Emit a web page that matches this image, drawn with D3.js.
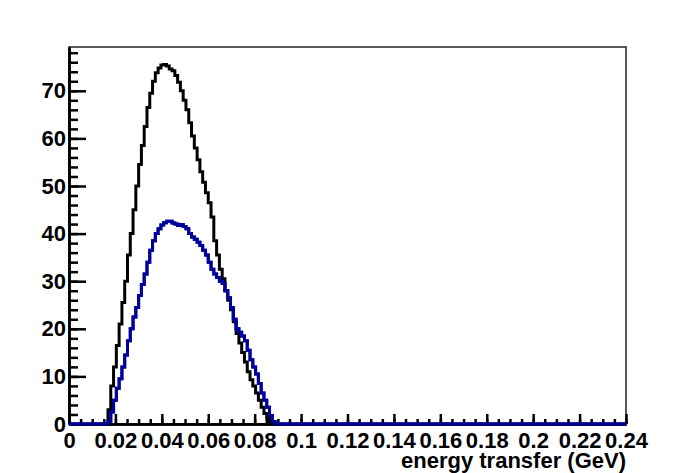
<!DOCTYPE html>
<html>
<head>
<meta charset="utf-8">
<script src="https://cdn.jsdelivr.net/npm/d3@7"></script>
<style>
  body { margin: 0; background: #fff; }
  svg text { font-family: "Liberation Sans", Arial, Helvetica, sans-serif; font-weight: bold; }
</style>
</head>
<body>
<svg id="chart" width="696" height="473"></svg>
<script>
// Histogram binning (200 bins from 0 to 0.24 GeV)
const nBins = 200
const xMin = 0, xMax = 0.24
const firstBin = 14   // first bin that holds entries

// Bin contents starting at firstBin, all other bins are empty
const blackCounts = [
  3, 8, 12, 16.5, 21, 25.5, 30, 35.5, 40, 45,
  50, 54.5, 58.5, 62.5, 66.5, 69.5, 72, 73.8, 74.8, 75.4,
  75.5, 75.2, 74.6, 74.2, 73.2, 71.8, 70, 68, 66, 63.3,
  60.5, 58, 55.5, 53, 50.8, 48.6, 46.5, 43.5, 38.5, 35.5,
  32.5, 30.5, 28, 26, 24, 21.5, 19, 17, 15, 13,
  11, 9.3, 8, 6.5, 5, 3.5, 2.2, 1.2, 0.4
]
const blueCounts = [
  0.5, 2.5, 5, 7.5, 9.5, 12, 14.5, 17.5, 20, 22.5,
  24.5, 27, 29.3, 31.5, 34, 36.5, 38.5, 40, 41, 41.8,
  42.3, 42.6, 42.6, 42.2, 42, 41.7, 41.9, 41.5, 41, 40,
  39.3, 38.8, 38.2, 37.5, 36.5, 35.5, 34, 32.5, 31.5, 30.8,
  30, 29.5, 28, 26.5, 24.5, 22, 20, 19.3, 18.5, 17.5,
  15.5, 13.5, 12, 10.5, 8.5, 6.5, 5, 3.5, 1.8, 0.5
]

const yMax = 79.2
const xTickLabels = ["0", "0.02", "0.04", "0.06", "0.08", "0.1", "0.12", "0.14", "0.16", "0.18", "0.2", "0.22", "0.24"]
const yTickValues = [0, 10, 20, 30, 40, 50, 60, 70]
const xTitle = "energy transfer (GeV)"

// Frame of the pad
const frame = {left: 69, top: 47, right: 626, bottom: 424}

const svg = d3.select("#chart")

const x = d3.scaleLinear().domain([xMin, xMax]).range([frame.left, frame.right])
const y = d3.scaleLinear().domain([0, yMax]).range([frame.bottom, frame.top])

// Expand the stored counts to the full list of bins
const fullBins = counts => d3.range(nBins).map(i => {
  const k = i - firstBin
  return (k >= 0 && k < counts.length) ? counts[k] : 0
})

const binWidth = (xMax - xMin) / nBins
const toSteps = counts => {
  const vals = fullBins(counts)
  const pts = vals.map((v, i) => [xMin + i * binWidth, v])
  pts.push([xMax, vals[vals.length - 1]])
  return pts
}

const stepLine = d3.line()
  .x(d => x(d[0]))
  .y(d => y(d[1]))
  .curve(d3.curveStepAfter)

// Frame box
svg.append("rect")
  .attr("x", frame.left).attr("y", frame.top)
  .attr("width", frame.right - frame.left)
  .attr("height", frame.bottom - frame.top)
  .attr("fill", "none")
  .attr("stroke", "#222")
  .attr("stroke-width", 1.5)

// Histograms
svg.append("path")
  .attr("d", stepLine(toSteps(blackCounts)))
  .attr("fill", "none")
  .attr("stroke", "#000")
  .attr("stroke-width", 3)

svg.append("path")
  .attr("d", stepLine(toSteps(blueCounts)))
  .attr("fill", "none")
  .attr("stroke", "#00009c")
  .attr("stroke-width", 3)

// Y axis: minor ticks every 2, major every 10, ticks point inwards
const yMinor = d3.axisLeft(y).tickValues(d3.range(0, yMax, 2)).tickSizeInner(-9).tickSizeOuter(0).tickFormat("")
const yMajor = d3.axisLeft(y).tickValues(yTickValues).tickSizeInner(-17).tickSizeOuter(0).tickPadding(3).tickFormat(d3.format("d"))

svg.append("g").attr("transform", `translate(${frame.left},0)`).call(yMinor)
svg.append("g").attr("transform", `translate(${frame.left},0)`).call(yMajor)

// X axis: minor ticks every 0.005, major every 0.02
const xMinorVals = d3.range(0, 49).map(i => i * 0.005)
const xMajorVals = xTickLabels.map(Number)
const xMinor = d3.axisBottom(x).tickValues(xMinorVals).tickSizeInner(-5).tickSizeOuter(0).tickFormat("")
const xMajor = d3.axisBottom(x).tickValues(xMajorVals).tickSizeInner(-10).tickSizeOuter(0).tickPadding(8)
  .tickFormat((d, i) => xTickLabels[i])

svg.append("g").attr("transform", `translate(0,${frame.bottom})`).call(xMinor)
svg.append("g").attr("transform", `translate(0,${frame.bottom})`).call(xMajor)

// Style both axes like ROOT: thick black lines, bold labels
svg.selectAll(".domain").attr("stroke", "#000").attr("stroke-width", 2.5)
svg.selectAll(".tick line").attr("stroke", "#000").attr("stroke-width", 2.5)
svg.selectAll(".tick text")
  .attr("fill", "#000")
  .style("font-size", "22px")
  .style("font-family", "'Liberation Sans', Arial, sans-serif")
  .style("font-weight", "bold")

// Redraw the blue baseline on top of the x axis line
svg.append("path")
  .attr("d", stepLine(toSteps(blueCounts)))
  .attr("fill", "none")
  .attr("stroke", "#00009c")
  .attr("stroke-width", 3)

// Axis title, right aligned with the frame
svg.append("text")
  .attr("x", frame.right)
  .attr("y", 468)
  .attr("text-anchor", "end")
  .style("font-size", "22px")
  .text(xTitle)
</script>
</body>
</html>
